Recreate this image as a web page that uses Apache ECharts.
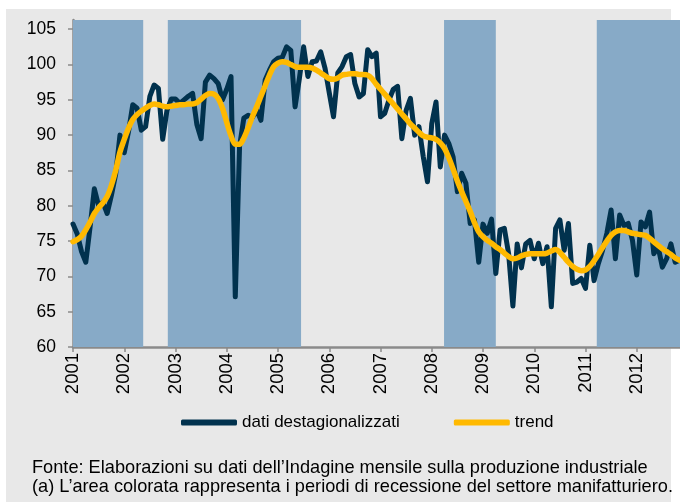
<!DOCTYPE html>
<html>
<head>
<meta charset="utf-8">
<script src="https://cdn.jsdelivr.net/npm/echarts@6/dist/echarts.min.js"></script>
<style>
  html, body { margin: 0; padding: 0; background: #fff; }
  #chart { width: 680px; height: 502px; }
</style>
</head>
<body>
<div id="chart"></div>
<script>
// anni sull'asse x
var anni = [2001, 2002, 2003, 2004, 2005, 2006, 2007, 2008, 2009, 2010, 2011, 2012];
var tickY = [60, 65, 70, 75, 80, 85, 90, 95, 100, 105];

// dati mensili gen 2001 - nov 2012
var dati = [
    77.4, 76.0, 73.5, 72.0, 77.0, 82.4, 80.0, 80.5, 78.9, 81.5, 84.5, 90.0,
    87.5, 90.5, 94.3, 93.8, 90.7, 91.2, 95.5, 97.1, 96.6, 89.4, 93.5, 95.1,
    95.1, 94.5, 95.0, 95.5, 95.9, 91.5, 89.5, 97.5, 98.5, 98.0, 97.3, 95.0,
    96.5, 98.3, 67.1, 88.4, 92.4, 92.8, 92.5, 93.6, 92.1, 97.8, 99.2, 100.4,
    100.9, 101.0, 102.5, 102.0, 94.0, 98.0, 102.5, 98.3, 100.4, 100.5, 101.8, 99.5,
    96.0, 92.6, 98.8, 99.7, 101.1, 101.4, 97.3, 95.4, 95.9, 102.1, 101.1, 101.6,
    92.6, 93.1, 95.0, 96.5, 96.9, 89.5, 93.5, 95.2, 90.0, 91.2, 87.0, 83.4,
    91.6, 94.7, 85.5, 90.0, 88.8, 86.9, 82.0, 84.6, 83.2, 77.5, 78.0, 72.0,
    77.4, 76.1, 78.1, 70.4, 76.6, 76.8, 73.2, 65.8, 74.6, 71.2, 74.6, 75.1,
    72.5, 74.7, 71.8, 74.2, 65.7, 76.8, 78.0, 73.7, 77.5, 69.0, 69.2, 69.7,
    68.3, 74.4, 69.4, 71.8, 73.7, 76.1, 79.4, 72.5, 78.7, 77.2, 77.5, 75.1,
    70.2, 77.7, 77.0, 79.1, 73.2, 74.2, 71.3, 72.5, 74.6, 72.0, 72.3
];

var trend = [
    74.9, 75.2, 75.7, 76.6, 77.7, 78.9, 79.7, 80.4, 81.3, 82.9, 85.0, 87.6,
    89.4, 91.0, 92.2, 92.9, 93.4, 93.8, 94.2, 94.4, 94.3, 94.1, 94.0, 94.1,
    94.2, 94.3, 94.3, 94.4, 94.4, 94.6, 95.1, 95.6, 95.9, 95.8, 95.2, 93.8,
    91.8, 89.9, 88.7, 88.7, 89.6, 91.0, 92.6, 94.0, 95.5, 97.0, 98.5, 99.7,
    100.2, 100.4, 100.3, 100.0, 99.7, 99.6, 99.6, 99.6, 99.5, 99.2, 98.8, 98.4,
    98.0, 97.9, 98.1, 98.5, 98.6, 98.7, 98.7, 98.6, 98.6, 98.5, 98.0, 97.2,
    96.5, 95.8, 95.1, 94.4, 93.7, 93.0, 92.3, 91.6, 91.0, 90.4, 89.9, 89.7,
    89.6, 89.4, 88.9, 88.1, 86.8, 85.2, 83.5, 82.0, 80.6, 79.2, 77.6, 76.3,
    75.6, 75.1, 74.7, 74.2, 73.8, 73.3, 72.8, 72.5, 72.6, 72.9, 73.1, 73.2,
    73.2, 73.2, 73.2, 73.3, 73.6, 73.8, 73.4, 72.7, 72.0, 71.4, 71.0, 70.8,
    70.9, 71.4, 72.2, 73.1, 74.1, 75.0, 75.8, 76.3, 76.5, 76.5, 76.3, 76.1,
    76.0, 75.9, 75.8, 75.4, 74.9, 74.4, 73.9, 73.5, 73.1, 72.6, 72.3
];

// periodi di recessione (in anni decimali)
var recessioneDa = [2001.0, 2002.85, 2008.24, 2011.22];
var recessioneA = [2002.37, 2005.45, 2009.25, 2013.0];

var font = 'Liberation Sans, Arial, Helvetica, sans-serif';

function toPairs(arr) {
    return arr.map(function (v, i) {
        return [anni[0] + i / 12, v];
    });
}

var bande = recessioneDa.map(function (da, i) {
    return [{xAxis: da}, {xAxis: recessioneA[i]}];
});

var chart = echarts.init(document.getElementById('chart'), null, {renderer: 'canvas'});
chart.setOption({
    backgroundColor: '#ffffff',
    animation: false,
    graphic: [
        {
            type: 'rect',
            z: -100,
            silent: true,
            shape: {x: 6, y: 9, width: 665, height: 493},
            style: {fill: '#e8e8e8'}
        },
        {
            type: 'text',
            left: 32,
            top: 458,
            z: 10,
            style: {
                text: 'Fonte: Elaborazioni su dati dell\u2019Indagine mensile sulla produzione industriale\n(a) L\u2019area colorata rappresenta i periodi di recessione del settore manifatturiero.',
                font: '18.2px ' + font,
                fill: '#000',
                lineHeight: 19
            }
        }
    ],
    legend: {
        left: 176,
        top: 409,
        itemWidth: 56,
        itemHeight: 6,
        itemGap: 54,
        icon: 'roundRect',
        textStyle: {fontFamily: font, fontSize: 17, color: '#000'},
        data: ['dati destagionalizzati', 'trend']
    },
    grid: {left: 73, top: 20, width: 615, height: 327, containLabel: false, outerBoundsMode: 'none'},
    xAxis: {
        type: 'value',
        min: 2001,
        max: 2013,
        interval: 1,
        axisLine: {show: true, onZero: false, lineStyle: {color: '#8a8a8a', width: 2.5}},
        axisTick: {show: true, length: 5, customValues: anni, lineStyle: {color: '#8a8a8a', width: 1.5}},
        axisLabel: {
            rotate: 90,
            margin: 6,
            customValues: anni,
            fontFamily: font,
            fontSize: 18.5,
            color: '#000',
            formatter: function (v) { return String(Math.round(v)); }
        },
        splitLine: {show: false}
    },
    yAxis: {
        type: 'value',
        min: 60,
        max: 106.3,
        interval: 5,
        axisLine: {show: true, lineStyle: {color: '#8a8a8a', width: 2.5}},
        axisTick: {show: true, length: 5, customValues: tickY, lineStyle: {color: '#8a8a8a', width: 1.5}},
        axisLabel: {
            margin: 17,
            customValues: tickY,
            fontFamily: font,
            fontSize: 17.5,
            color: '#000'
        },
        splitLine: {show: false}
    },
    series: [
        {
            name: 'recessione',
            type: 'line',
            data: [],
            z: 1,
            silent: true,
            markArea: {
                silent: true,
                itemStyle: {color: '#87aac7', opacity: 1},
                data: bande
            }
        },
        {
            name: 'dati destagionalizzati',
            type: 'line',
            data: toPairs(dati),
            z: 3,
            showSymbol: false,
            symbol: 'none',
            color: '#01324e',
            lineStyle: {color: '#01324e', width: 5, join: 'round', cap: 'round'}
        },
        {
            name: 'trend',
            type: 'line',
            data: toPairs(trend),
            z: 4,
            showSymbol: false,
            symbol: 'none',
            smooth: 0.3,
            color: '#ffb900',
            lineStyle: {color: '#ffb900', width: 5.5, join: 'round', cap: 'round'}
        }
    ]
});
</script>
</body>
</html>
